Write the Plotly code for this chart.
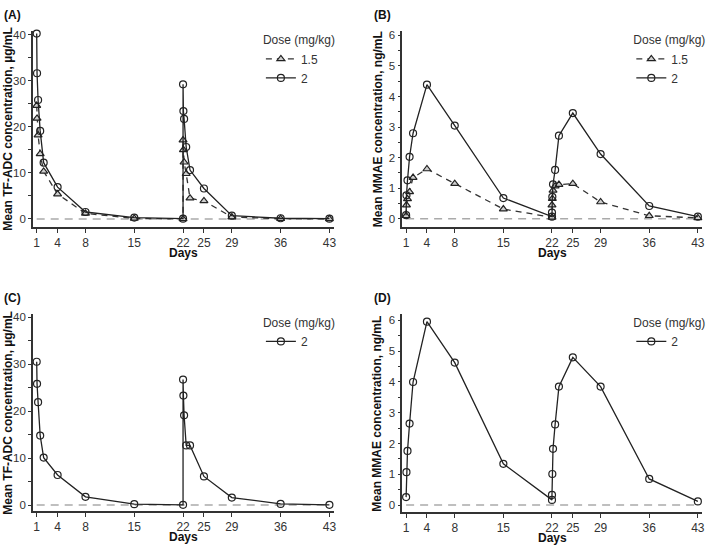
import plotly.graph_objects as go

# ---- data ----
days = [1, 1.05, 1.2, 1.5, 2, 4, 8, 15, 22, 22, 22.05, 22.15, 22.45, 23, 25, 29, 36, 43]
x_ticks = [1, 4, 8, 15, 22, 25, 29, 36, 43]

adc_a_15 = [24.6, 21.8, 18.2, 14.1, 10.3, 5.4, 1.2, 0.1, 0.0, 17.1, 15.0, 12.3, 9.8, 4.5, 3.9, 0.4, 0.05, 0.0]
adc_a_2 = [40.2, 31.6, 25.8, 19.1, 12.2, 6.9, 1.5, 0.3, 0.05, 29.2, 23.4, 21.7, 15.6, 10.6, 6.6, 0.7, 0.15, 0.05]
mmae_b_15 = [0.1, 0.45, 0.65, 0.88, 1.35, 1.63, 1.15, 0.32, 0.05, 0.45, 0.66, 0.93, 1.07, 1.12, 1.15, 0.55, 0.1, 0.03]
mmae_b_2 = [0.12, 0.77, 1.26, 2.03, 2.8, 4.39, 3.05, 0.68, 0.07, 0.2, 0.72, 1.13, 1.6, 2.72, 3.46, 2.12, 0.42, 0.07]
adc_c_2 = [30.5, 25.8, 21.9, 14.8, 10.1, 6.4, 1.75, 0.2, 0.05, 26.7, 23.3, 19.1, 12.7, 12.7, 6.1, 1.6, 0.25, 0.05]
mmae_d_2 = [0.26, 1.07, 1.76, 2.65, 4.0, 5.96, 4.63, 1.34, 0.17, 0.33, 1.01, 1.83, 2.62, 3.85, 4.8, 3.85, 0.85, 0.12]

panel_labels = ["(A)", "(B)", "(C)", "(D)"]
adc_title = "Mean TF-ADC concentration, µg/mL"
mmae_title = "Mean MMAE concentration, ng/mL"

W, H = 709, 547
FONT = "Liberation Sans, Arial, sans-serif"
AX = "#333333"

def fx(px):
    return px / W

def fy(py):
    return 1 - py / H

fig = go.Figure()

# pixel boxes for plot areas: (left, right, top, bottom)
boxes = [(33, 335, 28, 225), (404, 705, 28, 225), (33, 335, 313, 511), (404, 705, 313, 512)]
yranges = [[-1.7, 40.8], [-0.26, 6.15], [-1.3, 40.6], [-0.23, 6.2]]
ydticks = [10, 1, 10, 1]
yminor = [5, 0.5, 5, 0.5]
ytitles = [adc_title, mmae_title, adc_title, mmae_title]

layout_axes = {}
for i, (l, r, t, bt) in enumerate(boxes):
    n = "" if i == 0 else str(i + 1)
    layout_axes["xaxis" + n] = dict(
        domain=[fx(l), fx(r)], anchor="y" + n, range=[0.45, 43.6], tickmode="array", tickvals=x_ticks,
        showline=True, linecolor=AX, linewidth=1.5, ticks="outside", ticklen=4, tickcolor=AX,
        showgrid=False, zeroline=False, tickfont=dict(size=12, color="#333", family=FONT))
    layout_axes["yaxis" + n] = dict(
        domain=[fy(bt), fy(t)], anchor="x" + n, range=yranges[i], dtick=ydticks[i], tick0=0,
        showline=True, linecolor=AX, linewidth=1.5, ticks="outside", ticklen=3, tickcolor=AX,
        minor=dict(dtick=yminor[i], tick0=0, ticks="outside", ticklen=3, tickcolor=AX),
        showgrid=False, zeroline=False, tickfont=dict(size=11.5, color="#333", family=FONT))

def add_series(i, y, dose, dashed, legend):
    n = "" if i == 0 else str(i + 1)
    fig.add_trace(go.Scatter(
        x=days, y=y, mode="lines+markers", name=dose,
        xaxis="x" + n, yaxis="y" + n, legend=legend, cliponaxis=False,
        line=dict(color="#333" if dashed else "#222", width=1.3, dash="6px,5px" if dashed else "solid"),
        marker=dict(symbol="triangle-up" if dashed else "circle", size=7,
                    color="#cfcfcf" if dashed else "rgba(255,255,255,0)",
                    line=dict(color="#222", width=1.2))))

add_series(0, adc_a_15, "1.5", True, "legend")
add_series(0, adc_a_2, "2", False, "legend")
add_series(1, mmae_b_15, "1.5", True, "legend2")
add_series(1, mmae_b_2, "2", False, "legend2")
add_series(2, adc_c_2, "2", False, "legend3")
add_series(3, mmae_d_2, "2", False, "legend4")

shapes = []
for i in range(4):
    n = "" if i == 0 else str(i + 1)
    shapes.append(dict(type="line", xref="x" + n, yref="y" + n, x0=days[0], x1=days[-1], y0=0, y1=0,
                       line=dict(color="#aaaaaa", width=1.5, dash="8px,6px"), layer="below"))

annotations = []
label_pos = [(2, 3), (374, 3), (2, 288), (374, 288)]
for i, (l, r, t, bt) in enumerate(boxes):
    px, py = label_pos[i]
    annotations.append(dict(text="<b>%s</b>" % panel_labels[i], x=fx(px), y=fy(py), xref="paper", yref="paper",
                            xanchor="left", yanchor="top", showarrow=False,
                            font=dict(size=12, family=FONT, color="#111")))
    annotations.append(dict(text="<b>%s</b>" % ytitles[i], x=fx(l - 25), y=fy((t + bt) / 2),
                            xref="paper", yref="paper", textangle=-90, xanchor="center", yanchor="middle",
                            showarrow=False, font=dict(size=12, family=FONT, color="#111")))
    annotations.append(dict(text="<b>Days</b>", x=fx((l + r) / 2), y=fy(bt + 26),
                            xref="paper", yref="paper", xanchor="center", yanchor="middle",
                            showarrow=False, font=dict(size=12, family=FONT, color="#111")))

leg_pos = [(262, 26), (634, 26), (262, 310), (634, 310)]
legends = {}
for i, (lx, ly) in enumerate(leg_pos):
    key = "legend" if i == 0 else "legend%d" % (i + 1)
    legends[key] = dict(x=fx(lx), y=fy(ly), xanchor="left", yanchor="top",
                        title=dict(text="Dose (mg/kg)", font=dict(size=12, family=FONT, color="#333")),
                        font=dict(size=12, family=FONT, color="#333"), bgcolor="rgba(0,0,0,0)",
                        itemwidth=30, tracegroupgap=0)

fig.update_layout(width=W, height=H, margin=dict(l=0, r=0, t=0, b=0), plot_bgcolor="white",
                  paper_bgcolor="white", showlegend=True, shapes=shapes, annotations=annotations,
                  font=dict(family=FONT), **layout_axes, **legends)

fig.write_html("out.html", config={"displayModeBar": False},
               post_script="document.body.style.margin='0px';document.body.style.overflow='hidden';")
